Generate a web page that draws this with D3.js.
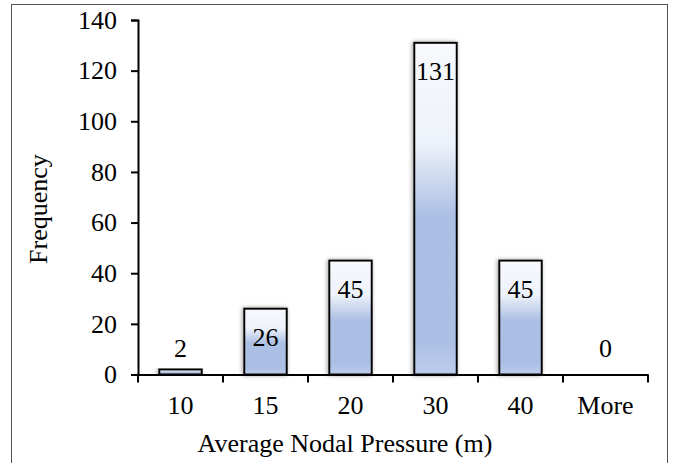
<!DOCTYPE html>
<html>
<head>
<meta charset="utf-8">
<script src="https://cdn.jsdelivr.net/npm/d3@7"></script>
<style>
  html, body { margin: 0; padding: 0; background: #fff; }
  svg { display: block; }
  text { font-family: "Liberation Serif", "Times New Roman", serif; fill: #000; }
</style>
</head>
<body>
<script>
const categories = ["10", "15", "20", "30", "40", "More"];
const frequencies = [2, 26, 45, 131, 45, 0];
const yTicks = [0, 20, 40, 60, 80, 100, 120, 140];
const xTitle = "Average Nodal Pressure (m)";
const yTitle = "Frequency";

const W = 687, H = 463, FS = 26;
const svg = d3.select("body").append("svg").attr("width", W).attr("height", H);

const defs = svg.append("defs");
const grad = defs.append("linearGradient").attr("id", "barGrad")
  .attr("x1", 0).attr("y1", 0).attr("x2", 0).attr("y2", 1);
[[0, "#f7f9fd"], [0.3, "#eef2fa"], [0.52, "#acc0e5"], [0.9, "#abbfe5"], [1, "#bdcceb"]]
  .forEach(([o, c]) => grad.append("stop").attr("offset", o).attr("stop-color", c));
const filt = defs.append("filter").attr("id", "shadow")
  .attr("x", "-30%").attr("y", "-10%").attr("width", "160%").attr("height", "120%");
filt.append("feDropShadow").attr("dx", -1).attr("dy", 0).attr("stdDeviation", 2.2)
  .attr("flood-color", "#777").attr("flood-opacity", 0.7);

// outer border
svg.append("rect").attr("x", 11.5).attr("y", 4.5).attr("width", 656).attr("height", 470)
  .attr("fill", "none").attr("stroke", "#555").attr("stroke-width", 1);

const x0 = 138, x1 = 648, yBase = 374.5, yTop = 20;
const x = d3.scaleBand().domain(categories).range([x0, x1]).paddingInner(0.5).paddingOuter(0.25);
const y = d3.scaleLinear().domain([0, 140]).range([yBase, yTop]);

// bars
svg.append("g").selectAll("rect").data(frequencies).join("rect")
  .attr("x", (d, i) => x(categories[i]))
  .attr("y", d => y(d))
  .attr("width", x.bandwidth())
  .attr("height", d => yBase - y(d))
  .attr("fill", "url(#barGrad)")
  .attr("stroke", d => d > 0 ? "#000" : "none")
  .attr("stroke-width", 2)
  .attr("filter", "url(#shadow)");

// y axis
const yAxis = svg.append("g").attr("transform", `translate(${x0},0)`)
  .call(d3.axisLeft(y).tickValues(yTicks).tickSize(7).tickPadding(14));
yAxis.attr("font-family", null).attr("font-size", null);
yAxis.select(".domain").attr("stroke", "#000").attr("stroke-width", 2);
yAxis.selectAll(".tick line").attr("stroke", "#000").attr("stroke-width", 2);
yAxis.selectAll(".tick text").attr("font-size", FS).attr("fill", "#000");

// x axis
const xAxis = svg.append("g").attr("transform", `translate(0,${yBase})`)
  .call(d3.axisBottom(x).tickSize(0).tickPadding(21).tickSizeOuter(0));
xAxis.attr("font-family", null).attr("font-size", null);
xAxis.select(".domain").attr("stroke", "#000").attr("stroke-width", 2);
xAxis.selectAll(".tick text").attr("font-size", FS).attr("fill", "#000");
// category boundary ticks
const boundPos = d3.range(categories.length + 1).map(i => x0 + i * x.step());
svg.append("g").selectAll("line").data(boundPos).join("line")
  .attr("x1", d => d).attr("x2", d => d)
  .attr("y1", yBase).attr("y2", yBase + 8)
  .attr("stroke", "#000").attr("stroke-width", 2);

// data labels
svg.append("g").selectAll("text").data(frequencies).join("text")
  .attr("x", (d, i) => x(categories[i]) + x.bandwidth() / 2)
  .attr("y", d => d >= 10 ? y(d) + 37 : y(Math.max(d, 2)) - 12)
  .attr("text-anchor", "middle")
  .attr("font-size", FS)
  .text(d => d);

// titles
svg.append("text").attr("x", 345).attr("y", 452).attr("text-anchor", "middle")
  .attr("font-size", FS).text(xTitle);
svg.append("text").attr("transform", "translate(47,209) rotate(-90)")
  .attr("text-anchor", "middle").attr("font-size", FS).text(yTitle);
</script>
</body>
</html>
